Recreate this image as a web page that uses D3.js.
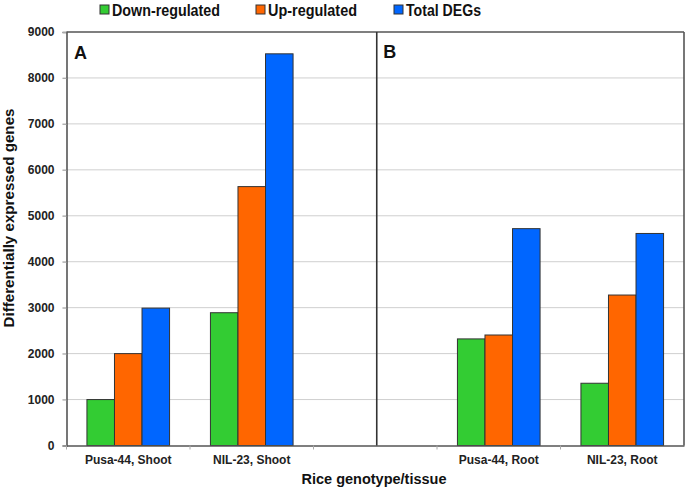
<!DOCTYPE html>
<html><head><meta charset="utf-8">
<script src="https://cdn.jsdelivr.net/npm/d3@7"></script>
<style>body{margin:0;background:#fff}svg{display:block;font-family:"Liberation Sans",Arial,sans-serif}</style>
</head><body><svg id="c" width="685" height="489"></svg>
<script>
const categories = ["Pusa-44, Shoot", "NIL-23, Shoot", "", "Pusa-44, Root", "NIL-23, Root"];
const seriesNames = ["Down-regulated", "Up-regulated", "Total DEGs"];
const downRegulated = [1000, 2890, null, 2320, 1355];
const upRegulated = [2000, 5635, null, 2405, 3275];
const totalDEGs = [2990, 8525, null, 4720, 4615];
const yTicks = [0, 1000, 2000, 3000, 4000, 5000, 6000, 7000, 8000, 9000];
const panelLabels = ["A", "B"];
const colors = ["#33CC33", "#FF6600", "#0066FF"];

const series = [downRegulated, upRegulated, totalDEGs];
const svg = d3.select("#c");
const m = {l: 66.5, r: 1, t: 32, b: 43.5};
const W = 685, H = 489;
const x = d3.scaleBand().domain(d3.range(categories.length)).range([m.l, W - m.r]).paddingInner(0).paddingOuter(0);
const y = d3.scaleLinear().domain([0, 9000]).range([H - m.b, m.t]);
const xs = d3.scaleBand().domain(d3.range(3)).range([0, x.bandwidth()]).paddingOuter(0.742).paddingInner(0);

// gridlines
svg.append("g").selectAll("line").data(yTicks.filter(d => d > 0 && d < 9000)).join("line")
  .attr("x1", m.l - 4).attr("x2", W - m.r).attr("y1", d => y(d)).attr("y2", d => y(d))
  .attr("stroke", "#cfcfcf").attr("stroke-width", 1);

// bars
categories.forEach((c, i) => {
  series.forEach((s, j) => {
    if (s[i] == null) return;
    svg.append("rect")
      .attr("x", x(i) + xs(j)).attr("width", xs.bandwidth())
      .attr("y", y(s[i])).attr("height", y(0) - y(s[i]))
      .attr("fill", colors[j]).attr("stroke", "#333").attr("stroke-width", 1);
  });
});

// y axis
const yAxis = svg.append("g").attr("transform", `translate(${m.l},0)`)
  .call(d3.axisLeft(y).tickValues(yTicks).tickSize(4).tickPadding(8).tickFormat(d3.format("d")));
yAxis.select(".domain").attr("stroke", "#555").attr("stroke-width", 1.6);
yAxis.selectAll(".tick line").attr("stroke", "#aaa");
yAxis.selectAll("text").attr("font-size", 12).attr("font-weight", "bold").attr("fill", "#222").attr("font-family", "Liberation Sans, Arial");

// x axis
const xAxis = svg.append("g").attr("transform", `translate(0,${y(0)})`)
  .call(d3.axisBottom(x).tickFormat(i => categories[i]).tickSize(0).tickPadding(10));
xAxis.select(".domain").attr("stroke", "#555").attr("stroke-width", 1.6);
xAxis.selectAll("text").attr("font-size", 12).attr("font-weight", "bold").attr("fill", "#222").attr("font-family", "Liberation Sans, Arial");
// boundary ticks
svg.append("g").selectAll("line").data(d3.range(categories.length)).join("line")
  .attr("x1", i => x(i)).attr("x2", i => x(i)).attr("y1", y(0)).attr("y2", y(0) + 4)
  .attr("stroke", "#aaa");

// frame: top, right, divider
svg.append("line").attr("x1", m.l).attr("x2", W - m.r).attr("y1", m.t).attr("y2", m.t).attr("stroke", "#555").attr("stroke-width", 1.6);
svg.append("line").attr("x1", W - m.r).attr("x2", W - m.r).attr("y1", m.t).attr("y2", y(0)).attr("stroke", "#555").attr("stroke-width", 1.6);
const divX = x(2) + x.bandwidth() / 2 + 1.5;
svg.append("line").attr("x1", divX).attr("x2", divX).attr("y1", m.t).attr("y2", y(0)).attr("stroke", "#333").attr("stroke-width", 1.6);

// panel labels
svg.append("text").attr("x", m.l + 7.5).attr("y", 58.5).text(panelLabels[0]).attr("font-size", 18).attr("font-weight", "bold").attr("fill", "#111");
svg.append("text").attr("x", divX + 6.5).attr("y", 57.5).text(panelLabels[1]).attr("font-size", 18).attr("font-weight", "bold").attr("fill", "#111");

// axis titles
svg.append("text").attr("x", 374).attr("y", 484).attr("text-anchor", "middle").text("Rice genotype/tissue")
  .attr("font-size", 14.5).attr("font-weight", "bold").attr("fill", "#111");
svg.append("text").attr("transform", "translate(13.5,218) rotate(-90)").attr("text-anchor", "middle").text("Differentially expressed genes")
  .attr("font-size", 15.5).attr("font-weight", "bold").attr("fill", "#111")
  .attr("textLength", 219).attr("lengthAdjust", "spacingAndGlyphs");

// legend
const legX = [100, 256, 394];
const legW = [108, 89, 75];
seriesNames.forEach((n, j) => {
  svg.append("rect").attr("x", legX[j]).attr("y", 5).attr("width", 9).attr("height", 9)
    .attr("fill", colors[j]).attr("stroke", "#333").attr("stroke-width", 1);
  svg.append("text").attr("x", legX[j] + 12).attr("y", 16).text(n)
    .attr("font-size", 17).attr("font-weight", "bold").attr("fill", "#111")
    .attr("textLength", legW[j]).attr("lengthAdjust", "spacingAndGlyphs");
});
</script></body></html>
